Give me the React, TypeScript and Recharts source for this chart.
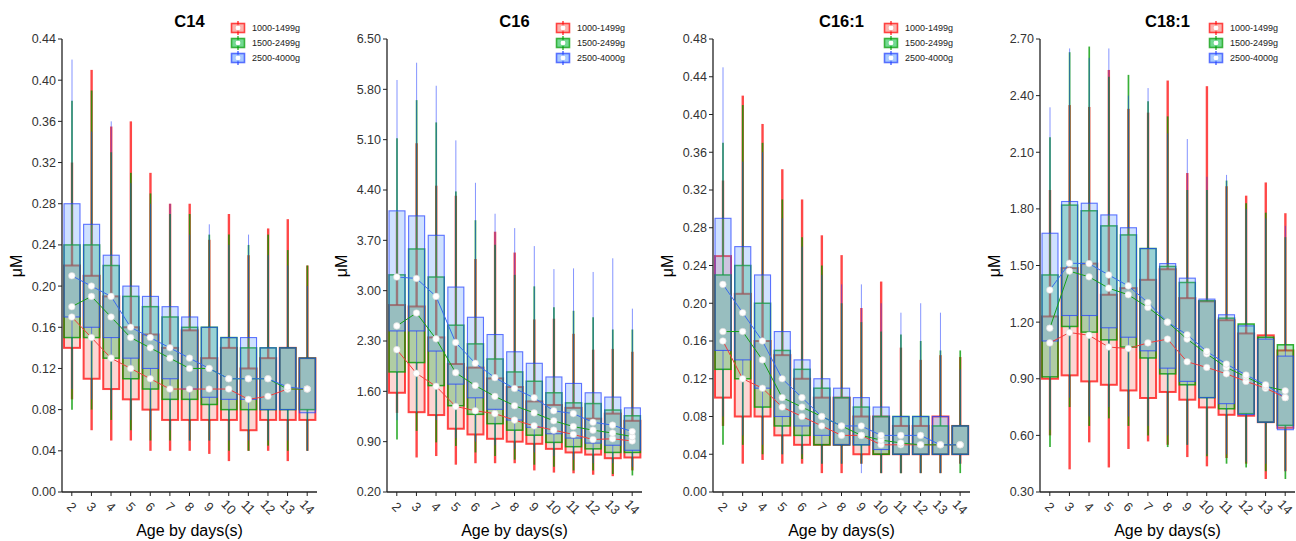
import React from 'react';
import { ComposedChart, Bar, Line, XAxis, YAxis } from 'recharts';

const days = ['2', '3', '4', '5', '6', '7', '8', '9', '10', '11', '12', '13', '14'];
const groups = ['1000-1499g', '1500-2499g', '2500-4000g'];

const fills = ['#F8766D', '#00BA38', '#619CFF'];
const edges = ['#FF0000', '#009A00', '#1F3DFF'];
const edgeOpacity = [0.72, 0.8, 0.7];
const whiskerOpacity = [0.72, 0.78, 0.55];
const whiskerWidth = [2.4, 1.7, 1.0];
const boxWidth = [2, 1.5, 1.1];
const meanColors = ['#F03C3C', '#16A016', '#3A6BEF'];
const font = '"Liberation Sans", Arial, sans-serif';
const H = 541;

// every stat is [1000-1499g, 1500-2499g, 2500-4000g], one value per day
const c14Ticks = [0, 0.04, 0.08, 0.12, 0.16, 0.2, 0.24, 0.28, 0.32, 0.36, 0.4, 0.44];
const c14Lo = [
  [0.09, 0.06, 0.05, 0.05, 0.04, 0.04, 0.04, 0.037, 0.03, 0.04, 0.04, 0.03, 0.04],
  [0.08, 0.08, 0.07, 0.06, 0.05, 0.05, 0.05, 0.05, 0.04, 0.04, 0.045, 0.04, 0.04],
  [0.1, 0.09, 0.08, 0.07, 0.06, 0.06, 0.05, 0.05, 0.05, 0.05, 0.05, 0.05, 0.04],
];
const c14Q1 = [
  [0.14, 0.11, 0.1, 0.09, 0.08, 0.07, 0.07, 0.07, 0.07, 0.06, 0.07, 0.07, 0.07],
  [0.15, 0.15, 0.13, 0.11, 0.1, 0.09, 0.09, 0.085, 0.08, 0.08, 0.08, 0.08, 0.08],
  [0.17, 0.16, 0.15, 0.13, 0.12, 0.11, 0.1, 0.092, 0.09, 0.09, 0.08, 0.08, 0.077],
];
const c14Q3 = [
  [0.22, 0.21, 0.19, 0.16, 0.153, 0.14, 0.157, 0.13, 0.14, 0.12, 0.13, 0.14, 0.13],
  [0.24, 0.24, 0.22, 0.19, 0.18, 0.17, 0.16, 0.16, 0.15, 0.14, 0.14, 0.14, 0.13],
  [0.28, 0.26, 0.23, 0.2, 0.19, 0.18, 0.17, 0.16, 0.15, 0.15, 0.14, 0.14, 0.13],
];
const c14Hi = [
  [0.32, 0.41, 0.355, 0.36, 0.31, 0.28, 0.28, 0.245, 0.27, 0.23, 0.256, 0.265, 0.22],
  [0.38, 0.39, 0.33, 0.31, 0.29, 0.27, 0.27, 0.25, 0.25, 0.24, 0.25, 0.235, 0.22],
  [0.42, 0.35, 0.36, 0.3, 0.28, 0.28, 0.25, 0.26, 0.24, 0.25, 0.23, 0.22, 0.2],
];
const c14Mean = [
  [0.17, 0.15, 0.13, 0.12, 0.11, 0.1, 0.1, 0.1, 0.1, 0.09, 0.093, 0.1, 0.1],
  [0.18, 0.19, 0.17, 0.15, 0.14, 0.13, 0.12, 0.12, 0.11, 0.11, 0.11, 0.1, 0.1],
  [0.21, 0.2, 0.19, 0.16, 0.15, 0.14, 0.13, 0.12, 0.11, 0.11, 0.11, 0.102, 0.1],
];

const c16Ticks = [0.2, 0.9, 1.6, 2.3, 3.0, 3.7, 4.4, 5.1, 5.8, 6.5];
const c16Lo = [
  [1.3, 0.68, 0.7, 0.58, 0.6, 0.6, 0.6, 0.5, 0.47, 0.46, 0.44, 0.42, 0.5],
  [0.93, 1.05, 0.89, 0.84, 0.75, 0.7, 0.65, 0.58, 0.55, 0.5, 0.5, 0.45, 0.43],
  [1.2, 1.3, 1.2, 0.95, 0.9, 0.85, 0.8, 0.75, 0.7, 0.65, 0.6, 0.6, 0.55],
];
const c16Q1 = [
  [1.58, 1.31, 1.27, 1.08, 1.0, 0.94, 0.9, 0.87, 0.8, 0.75, 0.72, 0.67, 0.68],
  [1.87, 2.0, 1.68, 1.4, 1.28, 1.15, 1.06, 0.99, 0.89, 0.83, 0.8, 0.75, 0.75],
  [2.44, 2.44, 2.16, 1.7, 1.51, 1.35, 1.2, 1.1, 1.01, 0.95, 0.88, 0.85, 0.78],
];
const c16Q3 = [
  [2.8, 2.78, 2.35, 1.98, 1.93, 1.78, 1.66, 1.46, 1.41, 1.37, 1.22, 1.29, 1.19],
  [3.22, 3.58, 3.19, 2.52, 2.26, 2.05, 1.87, 1.74, 1.58, 1.44, 1.43, 1.34, 1.26],
  [4.11, 4.04, 3.77, 3.05, 2.63, 2.39, 2.15, 1.99, 1.8, 1.71, 1.58, 1.52, 1.37],
];
const c16Hi = [
  [4.1, 5.05, 4.46, 4.32, 3.44, 3.82, 3.53, 2.6, 2.61, 2.4, 2.18, 2.19, 2.15],
  [5.12, 5.65, 5.34, 4.38, 3.98, 3.64, 3.22, 3.06, 2.77, 2.72, 2.63, 2.46, 2.46],
  [5.93, 6.17, 5.85, 5.09, 4.5, 4.07, 3.87, 3.62, 3.3, 3.31, 3.26, 3.45, 2.75],
];
const c16Mean = [
  [2.18, 1.85, 1.67, 1.39, 1.33, 1.29, 1.2, 1.12, 1.06, 1.0, 0.93, 0.94, 0.91],
  [2.51, 2.69, 2.33, 1.86, 1.68, 1.53, 1.4, 1.3, 1.19, 1.11, 1.06, 1.02, 0.97],
  [3.19, 3.17, 2.92, 2.28, 1.99, 1.79, 1.64, 1.51, 1.33, 1.29, 1.17, 1.13, 1.04],
];

const c161Ticks = [0, 0.04, 0.08, 0.12, 0.16, 0.2, 0.24, 0.28, 0.32, 0.36, 0.4, 0.44, 0.48];
const c161Lo = [
  [0.07, 0.03, 0.034, 0.03, 0.03, 0.02, 0.02, 0.03, 0.02, 0.02, 0.02, 0.02, 0.03],
  [0.05, 0.05, 0.04, 0.04, 0.035, 0.03, 0.03, 0.03, 0.02, 0.02, 0.02, 0.02, 0.02],
  [0.08, 0.06, 0.05, 0.04, 0.04, 0.03, 0.03, 0.02, 0.02, 0.02, 0.02, 0.02, 0.03],
];
const c161Q1 = [
  [0.1, 0.08, 0.08, 0.06, 0.05, 0.05, 0.05, 0.04, 0.04, 0.04, 0.04, 0.04, 0.04],
  [0.13, 0.12, 0.09, 0.07, 0.06, 0.05, 0.05, 0.05, 0.04, 0.04, 0.04, 0.04, 0.04],
  [0.15, 0.14, 0.11, 0.08, 0.07, 0.06, 0.05, 0.05, 0.045, 0.04, 0.04, 0.04, 0.04],
];
const c161Q3 = [
  [0.25, 0.21, 0.16, 0.145, 0.12, 0.1, 0.1, 0.08, 0.08, 0.07, 0.07, 0.08, 0.07],
  [0.23, 0.24, 0.2, 0.15, 0.13, 0.11, 0.1, 0.09, 0.08, 0.08, 0.08, 0.07, 0.07],
  [0.29, 0.26, 0.23, 0.17, 0.14, 0.12, 0.11, 0.1, 0.09, 0.08, 0.08, 0.08, 0.07],
];
const c161Hi = [
  [0.33, 0.42, 0.39, 0.342, 0.31, 0.272, 0.251, 0.195, 0.223, 0.153, 0.14, 0.145, 0.143],
  [0.37, 0.41, 0.37, 0.31, 0.27, 0.24, 0.2, 0.18, 0.17, 0.167, 0.16, 0.15, 0.15],
  [0.45, 0.35, 0.36, 0.29, 0.26, 0.23, 0.22, 0.22, 0.2, 0.19, 0.2, 0.19, 0.13],
];
const c161Mean = [
  [0.16, 0.12, 0.11, 0.09, 0.08, 0.07, 0.06, 0.06, 0.05, 0.05, 0.05, 0.05, 0.05],
  [0.17, 0.17, 0.14, 0.1, 0.09, 0.08, 0.07, 0.06, 0.055, 0.052, 0.05, 0.05, 0.05],
  [0.22, 0.19, 0.16, 0.12, 0.1, 0.08, 0.07, 0.07, 0.06, 0.06, 0.06, 0.05, 0.05],
];

const c181Ticks = [0.3, 0.6, 0.9, 1.2, 1.5, 1.8, 2.1, 2.4, 2.7];
const c181Lo = [
  [0.6, 0.42, 0.563, 0.43, 0.528, 0.568, 0.55, 0.485, 0.436, 0.48, 0.45, 0.369, 0.41],
  [0.538, 0.75, 0.65, 0.69, 0.65, 0.6, 0.538, 0.55, 0.49, 0.45, 0.43, 0.41, 0.369],
  [0.63, 0.8, 0.7, 0.75, 0.7, 0.65, 0.6, 0.55, 0.5, 0.5, 0.46, 0.45, 0.41],
];
const c181Q1 = [
  [0.9, 0.918, 0.886, 0.868, 0.838, 0.798, 0.83, 0.789, 0.748, 0.709, 0.704, 0.67, 0.64],
  [0.91, 1.177, 1.147, 1.106, 1.068, 1.01, 0.926, 0.868, 0.8, 0.741, 0.715, 0.67, 0.653],
  [1.1, 1.235, 1.235, 1.17, 1.12, 1.048, 0.956, 0.886, 0.8, 0.768, 0.71, 0.67, 0.63],
];
const c181Q3 = [
  [1.23, 1.486, 1.51, 1.345, 1.38, 1.424, 1.48, 1.327, 1.31, 1.21, 1.14, 1.13, 1.05],
  [1.45, 1.82, 1.79, 1.71, 1.662, 1.59, 1.495, 1.41, 1.313, 1.221, 1.19, 1.12, 1.08],
  [1.671, 1.839, 1.83, 1.768, 1.7, 1.59, 1.51, 1.433, 1.322, 1.239, 1.18, 1.11, 1.02],
];
const c181Hi = [
  [1.9, 2.35, 2.34, 2.536, 2.33, 2.31, 2.48, 1.99, 2.45, 1.92, 1.87, 1.94, 1.777],
  [2.18, 2.63, 2.66, 2.5, 2.51, 2.37, 2.29, 1.9, 1.9, 1.95, 1.83, 1.78, 1.65],
  [2.338, 2.65, 2.6, 2.65, 2.4, 2.44, 2.2, 2.17, 1.97, 1.98, 1.8, 1.75, 1.71],
];
const c181Mean = [
  [1.09, 1.145, 1.13, 1.068, 1.06, 1.09, 1.11, 0.99, 0.96, 0.926, 0.886, 0.85, 0.8],
  [1.168, 1.47, 1.44, 1.38, 1.345, 1.278, 1.2, 1.11, 1.032, 0.96, 0.91, 0.86, 0.836],
  [1.37, 1.512, 1.51, 1.45, 1.392, 1.304, 1.2, 1.133, 1.045, 0.978, 0.92, 0.868, 0.8],
];

const panels = [
  { title: 'C14', left: 0, width: 325, right: 8, domain: [0, 0.44], ticks: c14Ticks, lo: c14Lo, q1: c14Q1, q3: c14Q3, hi: c14Hi, mean: c14Mean },
  { title: 'C16', left: 325, width: 325, right: 8, domain: [0.2, 6.5], ticks: c16Ticks, lo: c16Lo, q1: c16Q1, q3: c16Q3, hi: c16Hi, mean: c16Mean },
  { title: 'C16:1', left: 651, width: 325, right: 6, domain: [0, 0.48], ticks: c161Ticks, lo: c161Lo, q1: c161Q1, q3: c161Q3, hi: c161Hi, mean: c161Mean },
  { title: 'C18:1', left: 978, width: 318, right: 1, domain: [0.3, 2.7], ticks: c181Ticks, lo: c181Lo, q1: c181Q1, q3: c181Q3, hi: c181Hi, mean: c181Mean },
];

// draws whiskers + box for one group inside the [lo, hi] range bar
const makeBox = (g: number) => (props: any) => {
  const { x, y, width, height, payload } = props;
  const lo = payload['lo' + g];
  const hi = payload['hi' + g];
  const top = Math.min(y, y + height);
  const k = Math.abs(height) / (hi - lo);
  const py = (v: number) => top + (hi - v) * k;
  const cx = x + width / 2;
  const yq1 = py(payload['q1' + g]);
  const yq3 = py(payload['q3' + g]);
  const line = { stroke: edges[g], strokeOpacity: whiskerOpacity[g], strokeWidth: whiskerWidth[g] };
  return (
    <g>
      <line x1={cx} x2={cx} y1={py(hi)} y2={yq3} {...line} />
      <line x1={cx} x2={cx} y1={yq1} y2={py(lo)} {...line} />
      <rect x={x} y={yq3} width={width} height={yq1 - yq3} fill={fills[g]} fillOpacity={0.3}
        stroke={edges[g]} strokeOpacity={edgeOpacity[g]} strokeWidth={boxWidth[g]} />
    </g>
  );
};

const DayTick = (props: any) => {
  const { x, y, payload } = props;
  return (
    <text x={x} y={y + 9} transform={`rotate(45 ${x} ${y + 9})`} textAnchor="middle"
      dominantBaseline="central" fontSize={13} fill="#333" fontFamily={font}>
      {payload.value}
    </text>
  );
};

function Panel({ p }: { p: any }) {
  const rows = days.map((day, i) => {
    const r: any = { day };
    for (let g = 0; g < 3; g++) {
      r['lo' + g] = p.lo[g][i];
      r['q1' + g] = p.q1[g][i];
      r['q3' + g] = p.q3[g][i];
      r['hi' + g] = p.hi[g][i];
      r['mean' + g] = p.mean[g][i];
    }
    return r;
  });
  const plotRight = p.width - p.right;
  const mid = (62 + plotRight) / 2;
  const lx = plotRight - 86;

  return (
    <div style={{ position: 'absolute', left: p.left, top: 0, width: p.width, height: H }}>
      <ComposedChart width={p.width} height={H} data={rows} barGap={-16}
        margin={{ top: 39, right: p.right, bottom: 0, left: 0 }}>
        <XAxis dataKey="day" height={49} interval={0} tick={<DayTick />} tickSize={4}
          axisLine={{ stroke: '#222', strokeWidth: 1.3 }} tickLine={{ stroke: '#222' }} />
        <YAxis type="number" width={62} domain={p.domain} ticks={p.ticks} allowDataOverflow
          tickFormatter={(v: number) => v.toFixed(2)} tickSize={4}
          tick={{ fontSize: 12.5, fill: '#333', fontFamily: font }}
          axisLine={{ stroke: '#222', strokeWidth: 1.3 }} tickLine={{ stroke: '#222' }} />
        {[0, 1, 2].map((g) => (
          <Bar key={'box' + g} dataKey={(d: any) => [d['lo' + g], d['hi' + g]]} barSize={16}
            shape={makeBox(g)} isAnimationActive={false} />
        ))}
        {[0, 1, 2].map((g) => (
          <Line key={'mean' + g} type="linear" dataKey={'mean' + g} stroke={meanColors[g]} strokeWidth={1}
            dot={{ r: 3.3, fill: '#fff', stroke: '#d6d6d6', strokeWidth: 0.6 }} isAnimationActive={false} />
        ))}
      </ComposedChart>
      <svg width={p.width} height={H} style={{ position: 'absolute', left: 0, top: 0, pointerEvents: 'none' }}
        fontFamily={font}>
        <text x={mid} y={27} textAnchor="middle" fontSize={16.5} fontWeight="bold" fill="#000">{p.title}</text>
        <text x={mid} y={536} textAnchor="middle" fontSize={16} fill="#000">Age by days(s)</text>
        <text x={22} y={266} transform="rotate(-90 22 266)" textAnchor="middle" fontSize={16} fill="#000">μM</text>
        {groups.map((name, g) => (
          <g key={name} transform={`translate(${lx}, ${28 + g * 15})`}>
            <line x1={7} x2={7} y1={-7} y2={7} stroke={edges[g]} strokeOpacity={0.8} strokeWidth={1.4} />
            <rect x={0.5} y={-4.5} width={13} height={9} fill={fills[g]} fillOpacity={0.55}
              stroke={edges[g]} strokeOpacity={0.7} strokeWidth={1.6} />
            <circle cx={7} cy={0} r={2.4} fill="#fff" />
            <text x={21} y={3.2} fontSize={9} fill="#222">{name}</text>
          </g>
        ))}
      </svg>
    </div>
  );
}

export default function App() {
  return (
    <div style={{ position: 'absolute', left: 0, top: 0, width: 1296, height: H, background: '#fff' }}>
      {panels.map((p) => (
        <Panel key={p.title} p={p} />
      ))}
    </div>
  );
}
